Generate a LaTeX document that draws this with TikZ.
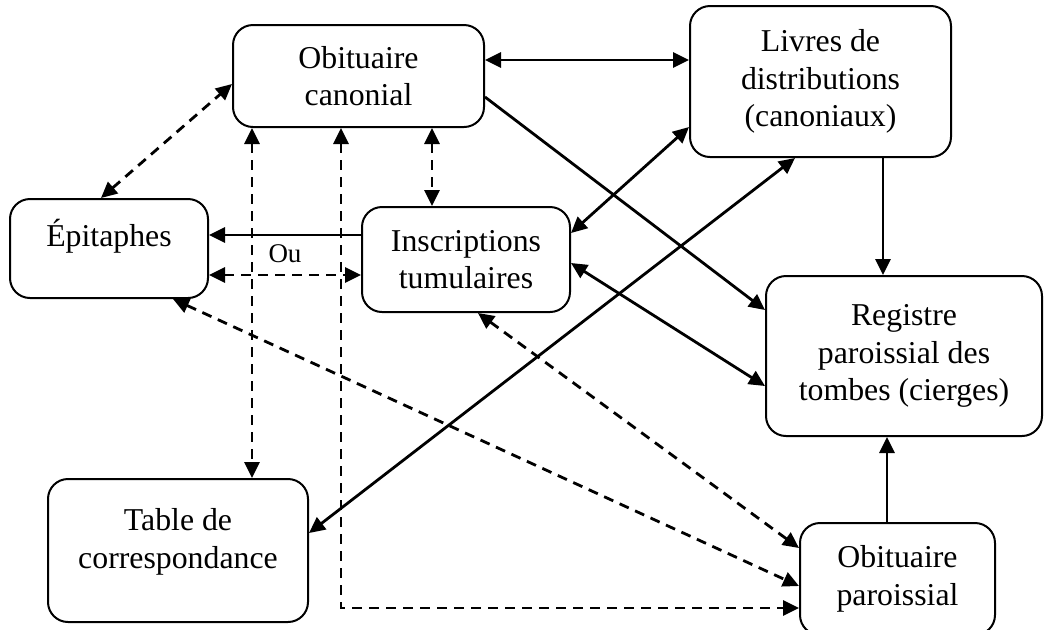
\documentclass[tikz,border=0pt]{standalone}
\usepackage{fontspec}
\setmainfont{Liberation Serif}
\usetikzlibrary{arrows.meta}

\begin{document}
\begin{tikzpicture}[x=0.5pt, y=-0.5pt,
  >={Triangle[length=8pt,width=7.5pt]},
  box/.style={draw, line width=1pt, rounded corners=10pt, align=center, inner sep=0pt,
    font=\fontsize{15.9}{18.75}\selectfont},
  link/.style={line width=1.4pt},
  dlink/.style={line width=1.4pt, dash pattern=on 5pt off 3.5pt}]
\useasboundingbox (0,0) rectangle (1044,629);

\node[box, minimum width=125.5pt, minimum height=51pt] (obcan) at (358.5,76) {Obituaire\\canonial};
\node[box, minimum width=130.5pt, minimum height=75.5pt] (livres) at (820.5,81.5) {Livres de\\distributions\\(canoniaux)};
\node[box, minimum width=99pt, minimum height=49.5pt, text height=12pt, text depth=14pt] (epit) at (109,248.5) {Épitaphes};
\node[box, minimum width=104pt, minimum height=52.5pt] (inscr) at (466,259.5) {Inscriptions\\tumulaires};
\node[box, minimum width=138pt, minimum height=80pt] (registre) at (904,356) {Registre\\paroissial des\\tombes (cierges)};
\node[box, minimum width=130pt, minimum height=71.5pt, text depth=12pt] (table) at (178,550.5) {Table de\\correspondance};
\node[box, minimum width=97.5pt, minimum height=56pt] (obpar) at (897.5,579) {Obituaire\\paroissial};

\draw[link,<->] (obcan.east |- 0,60) -- (livres.west |- 0,60);
\draw[link,->] (obcan.east |- 0,97) -- (registre.west |- 0,310);
\draw[dlink,<->] (epit.north -| 101,0) -- (obcan.west |- 0,84);
\draw[dlink,<->] (obcan.south -| 432,0) -- (inscr.north -| 432,0);
\draw[link,->] (inscr.west |- 0,235) -- (epit.east |- 0,235);
\draw[dlink,<->] (epit.east |- 0,275) -- node[above=2pt, font=\fontsize{13.5}{16}\selectfont] (ou) {Ou} (inscr.west |- 0,275);
\draw[dlink,<->] (obcan.south -| 252,0) -- (table.north -| 252,0);
\draw[dlink,<->] (obcan.south -| 341,0) |- (obpar.west |- 0,608);
\draw[link,<->] (livres.west |- 0,127) -- (inscr.east |- 0,233);
\draw[link,<->] (livres.south -| 795,0) -- (table.east |- 0,533);
\draw[link,->] (livres.south -| 883,0) -- (registre.north -| 883,0);
\draw[link,<->] (inscr.east |- 0,263) -- (registre.west |- 0,386);
\draw[link,->] (obpar.north -| 887,0) -- (registre.south -| 887,0);
\draw[dlink,<->] (epit.south -| 173,0) -- (obpar.west |- 0,586);
\draw[dlink,<->] (inscr.south -| 478,0) -- (obpar.west |- 0,548);

\end{tikzpicture}
\end{document}
